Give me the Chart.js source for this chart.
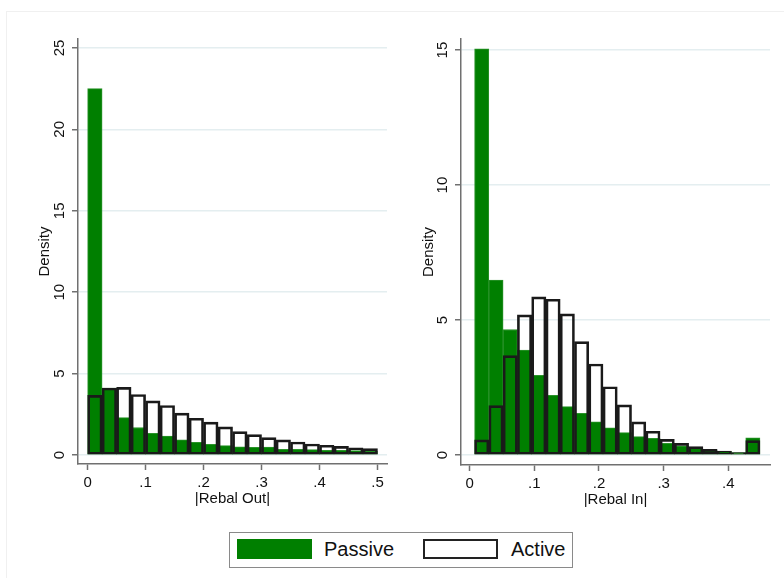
<!DOCTYPE html>
<html>
<head>
<meta charset="utf-8">
<script src="https://cdn.jsdelivr.net/npm/chart.js@4.4.1/dist/chart.umd.min.js"></script>
<style>
  html, body { margin: 0; padding: 0; background: #fff; overflow: hidden; }
  body { width: 784px; height: 578px; position: relative; font-family: "Liberation Sans", Arial, sans-serif; }
  .frame { position: absolute; left: 6px; top: 11px; width: 820px; height: 620px; border: 1px solid #f0f0f0; }
  canvas { position: absolute; top: 0; }
  #outChart { left: 0; }
  #inChart { left: 392px; }
  .legend { position: absolute; left: 229px; top: 532px; width: 344px; height: 36px; border: 1.5px solid #8a8a8a; box-sizing: border-box; background: #fff; }
  .legend div { position: absolute; }
  .sw { top: 6px; width: 75px; height: 20px; box-sizing: border-box; }
  .lbl { top: 5px; font-size: 20px; line-height: 22px; color: #111; }
</style>
</head>
<body>
<div class="frame"></div>
<canvas id="outChart" width="392" height="520"></canvas>
<canvas id="inChart" width="392" height="520"></canvas>
<div class="legend">
  <div class="sw" style="left:7px; background:#007f00;"></div>
  <div class="lbl" style="left:94px;">Passive</div>
  <div class="sw" style="left:193px; background:#fff; border:2px solid #222;"></div>
  <div class="lbl" style="left:281px;">Active</div>
</div>
<script>
// |Rebal Out| histogram: 20 bins of width .025 starting at 0
const outBinStart = 0;
const outBinWidth = 0.025;
const outPassive = [22.5, 4.12, 2.30, 1.69, 1.34, 1.17, 0.93, 0.78, 0.66, 0.58,
                    0.51, 0.47, 0.49, 0.35, 0.35, 0.33, 0.29, 0.29, 0.27, 0.25];
const outActive = [3.66, 4.12, 4.16, 3.72, 3.33, 3.04, 2.57, 2.26, 2.02, 1.73,
                   1.44, 1.25, 1.07, 0.93, 0.80, 0.68, 0.60, 0.53, 0.45, 0.39];
const outXTicks = [0, 0.1, 0.2, 0.3, 0.4, 0.5];
const outYTicks = [0, 5, 10, 15, 20, 25];

// |Rebal In| histogram: 20 bins of width ~.022 starting near .008
const inBinStart = 0.0077;
const inBinWidth = 0.02206;
const inPassive = [15.05, 6.48, 4.65, 3.89, 2.95, 2.21, 1.79, 1.54, 1.23, 1.01,
                   0.83, 0.68, 0.62, 0.43, 0.33, 0.25, 0.17, 0.14, 0.09, 0.64];
const inActive = [0.56, 1.83, 3.68, 5.19, 5.86, 5.77, 5.23, 4.20, 3.37, 2.53,
                  1.86, 1.23, 0.88, 0.58, 0.43, 0.31, 0.21, 0.15, 0.09, 0.53];
const inXTicks = [0, 0.1, 0.2, 0.3, 0.4];
const inYTicks = [0, 5, 10, 15];

const seriesNames = ["Passive", "Active"];

function tickLabel(v) {
  return v === 0 ? "0" : String(+v.toFixed(2)).replace(/^0/, "");
}

function histChart(id, start, width, passive, active, cfg) {
  const pts = vals => vals.map((v, i) => ({ x: start + width * (i + 0.5), y: v }));
  const axisColor = "#707070";
  return new Chart(document.getElementById(id), {
    type: "bar",
    data: {
      datasets: [
        {
          label: seriesNames[1],
          data: pts(active),
          backgroundColor: "rgba(0,0,0,0)",
          borderColor: "#1a1a1a",
          borderWidth: 2,
          borderSkipped: false,
          grouped: false,
          order: 0,
          barPercentage: 1,
          categoryPercentage: 1,
        },
        {
          label: seriesNames[0],
          data: pts(passive),
          backgroundColor: "#007f00",
          borderColor: "#2a932a",
          borderWidth: 1,
          borderSkipped: false,
          grouped: false,
          order: 1,
          barPercentage: 1,
          categoryPercentage: 1,
        },
      ],
    },
    options: {
      responsive: false,
      animation: false,
      devicePixelRatio: 1,
      layout: { padding: cfg.padding },
      plugins: { legend: { display: false }, tooltip: { enabled: false } },
      scales: {
        x: {
          type: "linear",
          offset: false,
          min: cfg.xMin,
          max: cfg.xMax,
          afterBuildTicks: s => { s.ticks = cfg.xTicks.map(v => ({ value: v })); },
          afterFit: s => { s.height = 44; },
          ticks: { color: "#111", font: { size: 15 }, padding: 4, callback: v => tickLabel(v), autoSkip: false, maxRotation: 0 },
          grid: { offset: false, drawOnChartArea: false, tickLength: 6, tickColor: axisColor, tickWidth: 1.5 },
          border: { color: axisColor, width: 1.5 },
          title: { display: true, text: cfg.xTitle, color: "#111", font: { size: 15 }, padding: { top: 0, bottom: 0 } },
        },
        y: {
          min: cfg.yMin,
          max: cfg.yMax,
          afterBuildTicks: s => { s.ticks = cfg.yTicks.map(v => ({ value: v })); },
          afterFit: s => { s.width = cfg.yWidth; },
          ticks: { color: "#111", font: { size: 15 }, minRotation: 90, maxRotation: 90, crossAlign: "center", padding: cfg.yPad },
          grid: { color: "#e4eef0", lineWidth: 1.5, tickLength: 6, tickColor: axisColor, tickWidth: 1.5 },
          border: { color: axisColor, width: 1.5 },
          title: { display: true, text: "Density", color: "#111", font: { size: 15 }, padding: { top: 4, bottom: 0 } },
        },
      },
    },
  });
}

histChart("outChart", outBinStart, outBinWidth, outPassive, outActive, {
  padding: { top: 39, right: 5, bottom: 12, left: 32 },
  yWidth: 46,
  yPad: 4,
  xMin: -0.0166, xMax: 0.5164,
  yMin: -0.55, yMax: 25.55,
  xTicks: outXTicks, yTicks: outYTicks,
  xTitle: "|Rebal Out|",
});

histChart("inChart", inBinStart, inBinWidth, inPassive, inActive, {
  padding: { top: 39, right: 14, bottom: 11, left: 24 },
  yWidth: 45,
  yPad: 4,
  xMin: -0.0133, xMax: 0.4644,
  yMin: -0.37, yMax: 15.41,
  xTicks: inXTicks, yTicks: inYTicks,
  xTitle: "|Rebal In|",
});
</script>
</body>
</html>
